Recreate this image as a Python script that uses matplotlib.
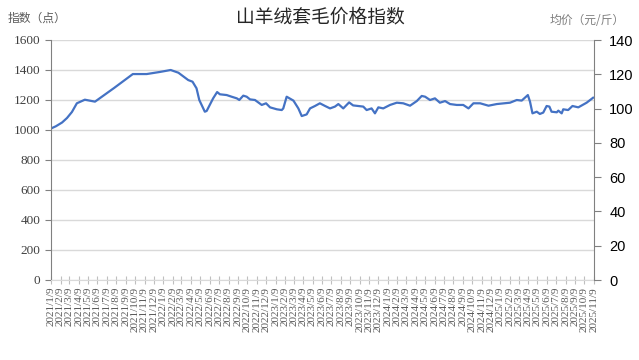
import matplotlib
matplotlib.use("Agg")
import matplotlib.pyplot as plt
import pandas as pd

plt.rcParams['font.family'] = ['Noto Sans CJK SC', 'DejaVu Sans']

title = "山羊绒套毛价格指数"
left_label = "指数（点）"
right_label = "均价（元/斤）"

dates = ["2021-01-09", "2021-01-25", "2021-02-14", "2021-03-02", "2021-03-18", "2021-04-03",
         "2021-04-29", "2021-06-01", "2021-08-02", "2021-10-02", "2021-11-16", "2021-12-29",
         "2022-02-02", "2022-02-27", "2022-03-31", "2022-04-14", "2022-04-27", "2022-05-06",
         "2022-05-24", "2022-05-30", "2022-06-20", "2022-07-03", "2022-07-12", "2022-08-03",
         "2022-08-19", "2022-09-05", "2022-09-13", "2022-09-26", "2022-10-07", "2022-10-18",
         "2022-11-03", "2022-11-25", "2022-12-09", "2022-12-22", "2023-01-13", "2023-01-29",
         "2023-02-03", "2023-02-14", "2023-03-08", "2023-03-24", "2023-04-04", "2023-04-20",
         "2023-05-01", "2023-05-17", "2023-06-02", "2023-06-19", "2023-07-05", "2023-07-21",
         "2023-08-01", "2023-08-17", "2023-09-05", "2023-09-18", "2023-10-21", "2023-11-01",
         "2023-11-17", "2023-11-28", "2023-12-09", "2023-12-25", "2024-01-16", "2024-02-07",
         "2024-02-28", "2024-03-21", "2024-04-12", "2024-04-28", "2024-05-09", "2024-05-25",
         "2024-06-10", "2024-06-26", "2024-07-13", "2024-07-29", "2024-08-20", "2024-09-10",
         "2024-09-27", "2024-10-13", "2024-11-04", "2024-12-01", "2024-12-28", "2025-02-09",
         "2025-03-03", "2025-03-19", "2025-04-08", "2025-04-15", "2025-04-23", "2025-05-07",
         "2025-05-17", "2025-05-28", "2025-06-08", "2025-06-17", "2025-06-24", "2025-07-11",
         "2025-07-16", "2025-07-27", "2025-08-01", "2025-08-17", "2025-08-31", "2025-09-19",
         "2025-10-16", "2025-11-06"]
index_values = [1010, 1025, 1050, 1080, 1120, 1178,
                1202, 1189, 1280, 1373, 1373, 1387,
                1400, 1382, 1333, 1322, 1278, 1200,
                1122, 1127, 1211, 1253, 1238, 1233,
                1222, 1211, 1200, 1229, 1222, 1204,
                1200, 1167, 1178, 1151, 1138, 1133,
                1144, 1222, 1196, 1144, 1093, 1104,
                1144, 1160, 1178, 1160, 1144, 1156,
                1173, 1144, 1184, 1164, 1156, 1133,
                1144, 1111, 1151, 1144, 1167, 1182,
                1178, 1162, 1193, 1227, 1222, 1200,
                1211, 1182, 1193, 1173, 1167, 1167,
                1144, 1178, 1178, 1162, 1173, 1182,
                1200, 1196, 1233, 1189, 1111, 1122,
                1107, 1116, 1160, 1156, 1122, 1118,
                1129, 1111, 1138, 1133, 1160, 1151,
                1182, 1215]

tick_dates = pd.date_range("2021-01-01", "2025-11-01", freq="MS") + pd.Timedelta(days=8)
tick_labels = [f"{d.year}/{d.month}/{d.day}" for d in tick_dates]

left_ticks = [0, 200, 400, 600, 800, 1000, 1200, 1400, 1600]
right_ticks = [0, 20, 40, 60, 80, 100, 120, 140]

x = pd.to_datetime(dates)

fig = plt.figure(figsize=(6.39, 3.6), dpi=100)
ax = fig.add_axes([51/639, 1-280/360, 543/639, 240/360])
ax2 = ax.twinx()

ax.plot(x, index_values, color="#4472C4", lw=1.6, solid_joinstyle="round")
ax.set_xlim(tick_dates[0], tick_dates[-1])
ax.set_ylim(0, 1600)
ax.set_yticks(left_ticks)
ax.grid(axis="y", color="#d9d9d9", lw=1)
ax.set_axisbelow(True)
ax.set_xticks(tick_dates)
ax.set_xticklabels(tick_labels, rotation=90, fontsize=8, color="#595959",
                   family=["Liberation Serif", "DejaVu Serif"])
ax.tick_params(axis="x", direction="inout", length=6, color="#bfbfbf", pad=2)
ax.tick_params(axis="y", direction="out", length=4, color="#808080", labelsize=9.5, labelcolor="#404040")
for lab in ax.get_yticklabels():
    lab.set_family(["Liberation Serif", "DejaVu Serif"])

ax.spines["top"].set_visible(False)
ax2.spines["top"].set_visible(False)
ax.spines["left"].set_color("#808080")
ax.spines["bottom"].set_color("#d9d9d9")
ax2.spines["left"].set_visible(False)
ax2.spines["bottom"].set_visible(False)
ax2.spines["right"].set_color("#808080")
ax.spines["right"].set_visible(False)

ax2.set_ylim(0, 140)
ax2.set_yticks(right_ticks)
ax2.tick_params(axis="y", direction="out", length=5, color="#808080", labelsize=10.5,
                labelcolor="#000000", pad=6)
for lab in ax2.get_yticklabels():
    lab.set_family(["Liberation Sans", "DejaVu Sans"])

fig.text(320/639, 1-17/360, title, ha="center", va="center", fontsize=13.5, color="#262626")
fig.text(8/639, 1-18/360, left_label, ha="left", va="center", fontsize=8.5, color="#595959")
fig.text(625/639, 1-20/360, right_label, ha="right", va="center", fontsize=8.5, color="#7f7f7f")

fig.savefig("out.png", dpi=100)
